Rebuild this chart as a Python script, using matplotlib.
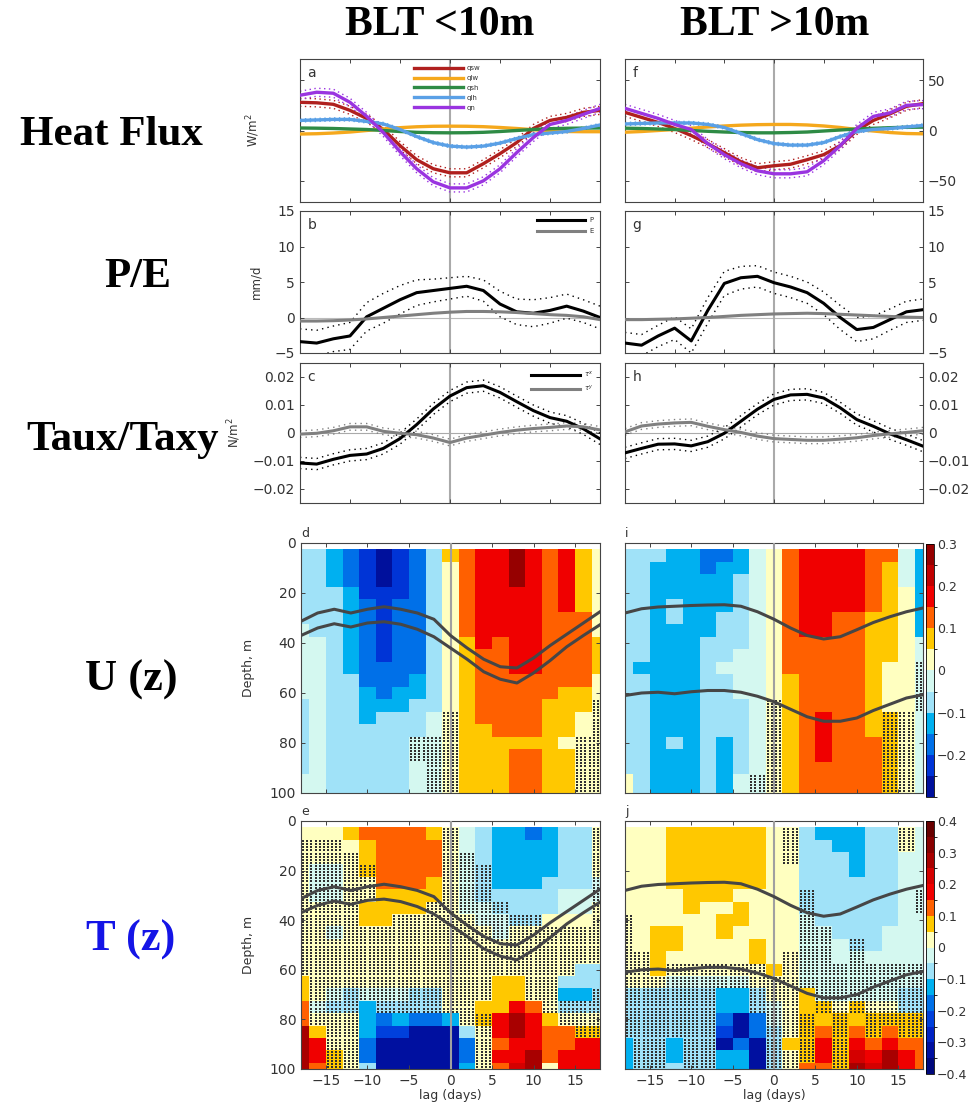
import numpy as np
import matplotlib
matplotlib.use("Agg")
import matplotlib.pyplot as plt
from matplotlib.colors import ListedColormap, BoundaryNorm

W, H = 970, 1109

lags = np.arange(-18, 19, 2)

# ---- heat flux components (W/m2) ----
qsw_a = [28, 27.5, 26, 20, 12, 1, -15, -29, -38, -42, -42, -33, -23, -12, 2, 10, 13, 18, 20]
qlw_a = [-3.5, -3.2, -2.5, -1.5, 0, 1.5, 2.8, 3.7, 4.2, 4.3, 4.2, 3.8, 3, 2, 0.8, -0.3, -1, -1.2, -1.2]
qsh_a = [2.5, 2.3, 2, 1.5, 1, 0, -1, -1.8, -2.2, -2.3, -2.2, -1.8, -1, 0, 1, 1.8, 2.2, 2.4, 2.5]
qlh_a = [10, 10.5, 11, 11, 9, 6.5, 1, -6, -12, -15.5, -16.5, -15.5, -12.5, -8, -4, -2.5, -1, 2, 5.5]
qn_a = [35, 38, 37, 28, 14, -2, -21, -38, -51, -57, -57, -50, -38, -22, -7, 6, 10, 16, 22]

qsw_f = [18, 13, 8, 2, -5, -13, -22, -31, -37, -35, -33.5, -29, -24, -15, 0, 10, 16.5, 24, 26.7]
qlw_f = [-1.7, -1, 0, 1, 2.3, 3.5, 4.5, 5.3, 5.8, 6, 6, 5.5, 4.5, 3, 1, -0.5, -2, -3, -3.3]
qsh_f = [2.3, 2, 1.5, 1, 0, -0.8, -1.5, -2, -2.3, -2.3, -2, -1.5, -0.5, 0.5, 1.5, 2.2, 2.8, 3.2, 3.3]
qlh_f = [6.5, 7, 7.5, 7.5, 7.5, 6, 3, -3, -9, -13, -14.5, -14.5, -12, -6, -1, 1, 2, 3.5, 5]
qn_f = [22, 17, 12, 6, 1, -13, -24, -33, -40, -43, -43, -41, -30, -15, 2, 14, 17.5, 25, 25.7]
flux_ci = {"qsw": 4, "qlh": 1.5, "qn": 4}

# ---- precipitation / evaporation (mm/d) ----
p_b = [-3.4, -3.6, -3.0, -2.6, 0.1, 1.3, 2.5, 3.5, 3.8, 4.1, 4.4, 3.8, 1.9, 0.8, 0.6, 1.0, 1.6, 0.9, 0.0]
p_ci_b = [1.8, 1.8, 1.8, 1.9, 2.0, 2.1, 2.0, 1.8, 1.6, 1.5, 1.4, 1.5, 1.8, 1.8, 1.9, 1.8, 1.7, 1.6, 1.6]
e_b = [-0.5, -0.5, -0.45, -0.35, -0.2, 0, 0.2, 0.4, 0.6, 0.75, 0.85, 0.85, 0.8, 0.7, 0.55, 0.4, 0.3, 0.1, -0.3]
p_g = [-3.6, -3.9, -2.6, -1.5, -3.3, 1.0, 4.8, 5.6, 5.8, 4.9, 4.3, 3.5, 2.0, 0.0, -1.7, -1.4, -0.3, 0.8, 1.1]
p_ci_g = [1.5, 1.5, 1.5, 1.6, 1.7, 1.8, 1.7, 1.6, 1.5, 1.5, 1.5, 1.5, 1.6, 1.7, 1.7, 1.6, 1.5, 1.5, 1.5]
e_g = [-0.3, -0.3, -0.25, -0.2, -0.1, 0, 0.15, 0.3, 0.4, 0.5, 0.55, 0.6, 0.55, 0.45, 0.35, 0.25, 0.15, 0.05, 0]

# ---- wind stress (N/m2) ----
taux_c = [-0.0107, -0.0111, -0.0094, -0.008, -0.0075, -0.0055, -0.002, 0.003, 0.0086, 0.0132,
          0.0162, 0.0169, 0.0145, 0.0112, 0.008, 0.0055, 0.0042, 0.0015, -0.0021]
tauy_c = [-0.0004, -0.0001, 0.0008, 0.0022, 0.0022, 0.0006, -0.0001, -0.0006, -0.0018, -0.0034,
          -0.0018, -0.0008, 0.0002, 0.001, 0.0016, 0.002, 0.0025, 0.0022, 0.0011]
taux_h = [-0.0071, -0.0055, -0.004, -0.0039, -0.0046, -0.0031, -0.0001, 0.0042, 0.0085, 0.012,
          0.0136, 0.0138, 0.0125, 0.009, 0.0048, 0.0024, -0.0003, -0.0024, -0.0047]
tauy_h = [0.0004, 0.0025, 0.0032, 0.0036, 0.0038, 0.0024, 0.0012, 0.0002, -0.0011, -0.002,
          -0.0023, -0.0026, -0.0026, -0.0022, -0.0017, -0.0009, -0.0003, 0.0002, 0.0008]
tau_ci = {"x": 0.002, "y": 0.0012}

# ---- layer depths (m) drawn on the sections ----
upper_left = [31.3, 28.0, 26.5, 28.0, 26.5, 25.5, 26.5, 28.0, 30.5, 37.0, 42.0, 46.5, 49.5, 50.0, 46.0, 41.0, 36.5, 32.0, 27.5]
lower_left = [37.0, 34.0, 32.3, 33.6, 32.0, 31.5, 32.5, 34.5, 37.5, 42.0, 46.5, 51.5, 54.5, 56.0, 52.0, 47.0, 41.5, 37.0, 32.7]
upper_right = [28.0, 26.3, 25.6, 25.3, 25.0, 24.8, 24.7, 25.3, 27.5, 30.5, 34.0, 37.0, 38.4, 37.5, 34.7, 31.8, 29.5, 27.5, 26.0]
lower_right = [61.0, 60.0, 59.7, 60.3, 59.5, 59.0, 59.0, 59.7, 61.3, 63.5, 66.5, 69.5, 71.3, 71.3, 70.0, 67.0, 64.5, 62.0, 60.7]

# ---- depth sections: one letter per cell (lower case < 0, upper case > 0, 0.05 steps) ----
depth_centers = np.arange(5, 101, 5)
u_small = [
    "bbcdefedbBCDDFDCDBA",
    "bbcdefedbACDDFDCDBA",
    "bbcdefedbACDDFDCDBA",
    "bbbceeedbACDDDDCDBA",
    "bbbcdeddbACDDDDCDBA",
    "bbbcdeddbACDDDDCCCA",
    "abbcdeddbACDDDDCCCA",
    "aabcdeddbABDCDDCCCB",
    "aabcdeddbABCCDDCCCB",
    "aabcddddbABCCDDCCCB",
    "aabbdddcbABCCCCCCCA",
    "aabbcdccbABCCCCCBBA",
    "babbcccbbABCCCCBBBA",
    "babbcbbbaABCCCCBBAA",
    "babbbbbbaABBCCCBBAA",
    "babbbbbaaABBBBBBAAA",
    "babbbbbaaABBBCCBBAA",
    "babbbbbaaABBBCCBBAA",
    "aabbbbbaaABBBCCBBAA",
    "aabbbbbaaABBBCCBBAA",
]
u_small_dots = [
    "...................",
    "...................",
    "...................",
    "...................",
    "...................",
    "...................",
    "...................",
    "...................",
    "...................",
    "...................",
    "...................",
    "...................",
    "..................x",
    ".........x........x",
    ".........x........x",
    ".......xxx.......xx",
    ".......xxx.......xx",
    "........xx.......xx",
    "........xx.......xx",
    "........xx.......xx",
]
u_large = [
    "bbbccddcaACDDDDCCac",
    "bbcccdccaACDDDDCBac",
    "bbcccccbaACDDDDCBac",
    "bbcccccbaACDDDDCBAc",
    "bbcbcccbaACDDDDCBAc",
    "bbcbccbbaACDDCCBBAc",
    "bbccccbbaACDDCCBBAc",
    "bbcccbbbaACCCCCBBAa",
    "bbcccbbaaACCCCCBBAa",
    "bccccbaaaACCCCCBAAa",
    "bbcccbbaaABCCCCBAAa",
    "bbcccbbaaABCCCCBAAa",
    "bbcccbbbaABCCCCBAAa",
    "bbcccbbbaABCDCCBBAa",
    "bbcccbbbaABCDCCBBAa",
    "bbcbcbcbaABCDCCCBAa",
    "bbcccbcbaABCDCCCBAa",
    "bbcccbcbaABCCCCCBAa",
    "AbcccbcaaABCCCCCBAa",
    "AbcccbcaaABCCCCCBAa",
]
u_large_dots = [
    "...................",
    "...................",
    "...................",
    "...................",
    "...................",
    "...................",
    "...................",
    "...................",
    "...................",
    "..................x",
    "..................x",
    "..................x",
    ".........x........x",
    ".........x......xx.",
    ".........x......xx.",
    ".........x......xx.",
    ".........x......xx.",
    ".........x......xx.",
    "........xx......xx.",
    "........xx......xx.",
]
t_small = [
    "AAABCCCCBAabccdcbbA",
    "AAAABCCCCAabccccbbA",
    "AAAABCCCCAabccccbbA",
    "AaaABCCCCAabccccbbA",
    "AaaAACCCBAabcccbbba",
    "AaaAABBBBAabbbbbaaa",
    "AAAABBBBAAaabbbbaaA",
    "AAAABBAAAAAaabbAAAA",
    "AAaAAAAAAAAAaAAAAAA",
    "AAAAAAAAAAAAAAAAAAA",
    "AAAAAAAAAAAAAAAAAAA",
    "AAAAAAAAAAAAAAAAAbb",
    "BAAAAAAAAAAABBAAbbb",
    "BAabaaabbAAABBAAccb",
    "CabbcbbbbAABBDCAbbb",
    "CAAAcdcddcABDFDBAAA",
    "FBAAceegggbADFDCCBB",
    "FDAAdgggggdACDDCCDD",
    "FDBAdgggggdADDFCDDD",
    "FCBAbgggggcACEFADDD",
]
t_small_dots = [
    ".........x........x",
    "xxx......x........x",
    "xxxx.....xx.......x",
    "xxxxx....xxx......x",
    "xxxxx....xxx......x",
    "xxxxx....xxx......x",
    "xxxx....xxxxx.....x",
    "xxxx..xxxxxxxxx...x",
    "xxxxxxxxxxxxxxxxxxx",
    "xxxxxxxxxxxxxxxxxxx",
    "xxxxxxxxxxxxxxxxxxx",
    "xxxxxxxxxxxxxxxxx..",
    ".xxxxxxxxxxx..xx...",
    ".xxxxxxxxxxx..xx..x",
    ".xxx.xxxxxx....xxxx",
    ".xxx......xx....xxx",
    "..xx.......x.....xx",
    "..xx.......x.......",
    "..xx.......x.......",
    "..xx.......x.......",
]
t_large = [
    "AAABBBBBBAAbcccbbAa",
    "AAABBBBBBAAbbccbbAa",
    "AAABBBBBBAAbbbcbbaa",
    "AAABBBBBBAAbbbcbbaa",
    "AAABBBBBBAAbbbbbbaa",
    "AAAABBBAAAAbbbbbbaa",
    "AAAABAABAAAbbbbbbaa",
    "AAAAAABBAAAabbbbbaa",
    "AABBAABAAAAaabbbaaa",
    "AABBAAAABAAaaabbaaa",
    "AABAAAAABAAaaaaaaaa",
    "AABAAAAAABAaaaaaaaa",
    "AAAaaaaaAAAaaaaaaaa",
    "bbbbbbccbAABaaaaabb",
    "bbbbbbccbaABBABAAbb",
    "bbbbbbdgdaABBBBBBBB",
    "bbbbbbegdbABCBCBCBB",
    "cbbcbbgdgbBBDBDCDCC",
    "cbbcbbccgbABDBEDFDC",
    "cbbbbbccgbACCBFEFDC",
]
t_large_dots = [
    "..........x......x.",
    "..........x......x.",
    "..........x........",
    "...................",
    "...................",
    "...........x......x",
    "...........x......x",
    "x..........x.......",
    "x..........xx......",
    "x..........xx.x....",
    "xx........xxx.x....",
    "xx.xxxxxx.xxxxxxxxx",
    "xxxxxxxxxxxxxxxxxxx",
    "xxxxxx..xxx.xxxxxxx",
    "xxxxxx..xxx.xxxxxxx",
    "xxxxxx...xxx.x.xxxx",
    "xxxxxx...xxx.x.x.xx",
    ".xx.xx...x.x.x.....",
    ".xx.xx...xxx.x.....",
    ".xx.xx...xx..x.....",
]

u_colors = ['#00109c', '#0034d6', '#0070e8', '#00b0f0', '#a0e2f8', '#d4f8f0',
            '#ffffc0', '#ffc800', '#ff6000', '#f00000', '#c00000', '#960000']
t_colors = ['#00087c', '#0010a0', '#0022c4', '#0040dc', '#0070e8', '#00b0f0', '#a0e2f8', '#d4f8f0',
            '#ffffc0', '#ffc800', '#ff6000', '#f00000', '#d40000', '#a80000', '#880000', '#680000']
u_cmap = ListedColormap(u_colors)
u_norm = BoundaryNorm(np.linspace(-0.3, 0.3, 13), 12)
t_cmap = ListedColormap(t_colors)
t_norm = BoundaryNorm(np.linspace(-0.4, 0.4, 17), 16)

TXT = '#333333'
plt.rcParams['font.family'] = ['DejaVu Sans']

fig = plt.figure(figsize=(W / 100, H / 100), dpi=100)


def add_ax(x0, y0, x1, y1):
    return fig.add_axes([x0 / W, 1 - y1 / H, (x1 - x0) / W, (y1 - y0) / H])


def style(ax, right=False, labels=True):
    for s in ax.spines.values():
        s.set_color('#444444')
        s.set_linewidth(0.8)
    ax.tick_params(direction='in', length=3, width=0.7, top=True, right=True,
                   labelsize=10, colors='#444444', labelcolor=TXT,
                   labelbottom=False, labelleft=labels and not right,
                   labelright=labels and right)


def letter(ax, s, inside=True):
    if inside:
        ax.text(0.025, 0.95, s, transform=ax.transAxes, ha='left', va='top', fontsize=10, color=TXT)
    else:
        ax.text(0.0, 1.012, s, transform=ax.transAxes, ha='left', va='bottom', fontsize=9, color=TXT)


def letter_value(ch):
    if ch.islower():
        return -(ord(ch) - ord('a') + 0.5) * 0.05
    return (ord(ch) - ord('A') + 0.5) * 0.05


def flux_panel(ax, qsw, qlw, qsh, qlh, qn, legend):
    cols = {'qsw': '#b0201e', 'qlw': '#f5a81c', 'qsh': '#2e8b45', 'qlh': '#5aa0e6', 'qn': '#9a34e0'}
    series = {'qsw': qsw, 'qlw': qlw, 'qsh': qsh, 'qlh': qlh, 'qn': qn}
    for name, vals in series.items():
        v = np.array(vals)
        ax.plot(lags, v, color=cols[name], lw=2.4, label=name, zorder=3)
        if name in flux_ci:
            for sgn in (-1, 1):
                ax.plot(lags, v + sgn * flux_ci[name], color=cols[name], lw=1.0,
                        ls=(0, (1, 2.5)), zorder=2)
    ax.axvline(0, color='#aaaaaa', lw=1.5, zorder=1)
    ax.set_xlim(-18, 18)
    ax.set_ylim(-71, 71)
    ax.set_xticks([-12, -6, 0, 6, 12])
    ax.set_yticks([-50, 0, 50])
    if legend:
        ax.legend(loc='upper left', bbox_to_anchor=(0.36, 1.0), frameon=False, fontsize=5,
                  handlelength=7, labelspacing=0.55, handletextpad=0.6, labelcolor=TXT)


def pe_panel(ax, p, pci, e, legend):
    p = np.array(p)
    pci = np.array(pci)
    ax.axhline(0, color='#bbbbbb', lw=0.8, zorder=1)
    ax.axvline(0, color='#aaaaaa', lw=1.5, zorder=1)
    ax.plot(lags, p, color='black', lw=2.2, label='P', zorder=3)
    ax.plot(lags, p + pci, color='black', lw=1.0, ls=(0, (1, 3)), zorder=2)
    ax.plot(lags, p - pci, color='black', lw=1.0, ls=(0, (1, 3)), zorder=2)
    ax.plot(lags, e, color='#808080', lw=2.2, label='E', zorder=3)
    ax.set_xlim(-18, 18)
    ax.set_ylim(-5, 15)
    ax.set_xticks([-12, -6, 0, 6, 12])
    ax.set_yticks([-5, 0, 5, 10, 15])
    if legend:
        ax.legend(loc='upper right', bbox_to_anchor=(1.0, 1.0), frameon=False, fontsize=5,
                  handlelength=7, labelspacing=0.7, handletextpad=0.6, labelcolor=TXT)


def tau_panel(ax, tx, ty, legend):
    tx = np.array(tx)
    ty = np.array(ty)
    ax.axhline(0, color='#aaaaaa', lw=0.8, zorder=1)
    ax.axvline(0, color='#aaaaaa', lw=1.5, zorder=1)
    ax.plot(lags, tx, color='black', lw=2.2, label=r'$\tau^x$', zorder=3)
    ax.plot(lags, ty, color='#808080', lw=2.2, label=r'$\tau^y$', zorder=3)
    for sgn in (-1, 1):
        ax.plot(lags, tx + sgn * tau_ci['x'], color='black', lw=1.0, ls=(0, (1, 3)), zorder=2)
        ax.plot(lags, ty + sgn * tau_ci['y'], color='#808080', lw=1.0, ls=(0, (1, 3)), zorder=2)
    ax.set_xlim(-18, 18)
    ax.set_ylim(-0.025, 0.025)
    ax.set_xticks([-12, -6, 0, 6, 12])
    ax.set_yticks([-0.02, -0.01, 0, 0.01, 0.02])
    ax.set_yticklabels(['\u22120.02', '\u22120.01', '0', '0.01', '0.02'])
    if legend:
        ax.legend(loc='upper right', bbox_to_anchor=(1.0, 1.0), frameon=False, fontsize=5,
                  handlelength=7, labelspacing=0.6, handletextpad=0.6, labelcolor=TXT)


def section(ax, rows, dots, cmap, norm, upper, lower):
    vals = np.array([[letter_value(c) for c in r] for r in rows])
    xe = np.arange(-19, 20, 2)
    ye = np.arange(2.5, 103, 5)
    ax.pcolormesh(xe, ye, vals, cmap=cmap, norm=norm, zorder=1)
    px, py = [], []
    for i, r in enumerate(dots):
        for j, ch in enumerate(r):
            if ch == 'x':
                for dx in (-0.75, -0.25, 0.25, 0.75):
                    for dy in (-1.875, -0.625, 0.625, 1.875):
                        px.append(lags[j] + dx)
                        py.append(depth_centers[i] + dy)
    ax.scatter(px, py, s=0.55, marker='s', c='#303030', linewidths=0, zorder=2)
    ax.axvline(0, color='#a0a0a0', lw=1.5, zorder=3)
    ax.plot(lags, upper, color='#464646', lw=2.2, zorder=4)
    ax.plot(lags, lower, color='#464646', lw=2.2, zorder=4)
    ax.set_xlim(-18, 18)
    ax.set_ylim(100, 0)
    ax.set_xticks([-15, -10, -5, 0, 5, 10, 15])
    ax.set_yticks([0, 20, 40, 60, 80, 100])


# ---- left column (BLT < 10 m) ----
ax_a = add_ax(300, 59, 600, 202)
flux_panel(ax_a, qsw_a, qlw_a, qsh_a, qlh_a, qn_a, True)
style(ax_a, labels=False)
letter(ax_a, 'a')
ax_a.set_ylabel('W/m$^2$', fontsize=8.5, color=TXT)
ax_a.yaxis.set_label_coords(-0.125, 0.5)

ax_b = add_ax(300, 211, 600, 353)
pe_panel(ax_b, p_b, p_ci_b, e_b, True)
style(ax_b)
letter(ax_b, 'b')
ax_b.set_ylabel('mm/d', fontsize=8.5, color=TXT)
ax_b.yaxis.set_label_coords(-0.125, 0.5)

ax_c = add_ax(300, 363, 600, 503)
tau_panel(ax_c, taux_c, tauy_c, True)
style(ax_c)
letter(ax_c, 'c')
ax_c.set_ylabel('N/m$^2$', fontsize=8.5, color=TXT)
ax_c.yaxis.set_label_coords(-0.19, 0.5)

ax_d = add_ax(301, 543, 600, 793)
section(ax_d, u_small, u_small_dots, u_cmap, u_norm, upper_left, lower_left)
style(ax_d)
letter(ax_d, 'd', inside=False)
ax_d.set_ylabel('Depth, m', fontsize=9, color=TXT)
ax_d.yaxis.set_label_coords(-0.155, 0.5)

ax_e = add_ax(301, 821, 600, 1069)
section(ax_e, t_small, t_small_dots, t_cmap, t_norm, upper_left, lower_left)
style(ax_e)
ax_e.tick_params(labelbottom=True)
letter(ax_e, 'e', inside=False)
ax_e.set_ylabel('Depth, m', fontsize=9, color=TXT)
ax_e.yaxis.set_label_coords(-0.155, 0.5)
ax_e.set_xlabel('lag (days)', fontsize=9, color=TXT, labelpad=1)

# ---- right column (BLT > 10 m) ----
ax_f = add_ax(625, 59, 923, 202)
flux_panel(ax_f, qsw_f, qlw_f, qsh_f, qlh_f, qn_f, False)
style(ax_f, right=True)
letter(ax_f, 'f')

ax_g = add_ax(625, 211, 923, 353)
pe_panel(ax_g, p_g, p_ci_g, e_g, False)
style(ax_g, right=True)
letter(ax_g, 'g')

ax_h = add_ax(625, 363, 923, 503)
tau_panel(ax_h, taux_h, tauy_h, False)
style(ax_h, right=True)
letter(ax_h, 'h')

ax_i = add_ax(625, 543, 923, 793)
section(ax_i, u_large, u_large_dots, u_cmap, u_norm, upper_right, lower_right)
style(ax_i, labels=False)
letter(ax_i, 'i', inside=False)

ax_j = add_ax(625, 821, 923, 1069)
section(ax_j, t_large, t_large_dots, t_cmap, t_norm, upper_right, lower_right)
style(ax_j, labels=False)
ax_j.tick_params(labelbottom=True)
letter(ax_j, 'j', inside=False)
ax_j.set_xlabel('lag (days)', fontsize=9, color=TXT, labelpad=1)

# ---- colour bars ----
cax_u = add_ax(926, 544, 934, 797)
cb_u = fig.colorbar(plt.cm.ScalarMappable(norm=u_norm, cmap=u_cmap), cax=cax_u,
                    ticks=[-0.2, -0.1, 0, 0.1, 0.2, 0.3])
cb_u.ax.set_yticklabels(['\u22120.2', '\u22120.1', '0', '0.1', '0.2', '0.3'])
cax_t = add_ax(926, 821, 934, 1074)
cb_t = fig.colorbar(plt.cm.ScalarMappable(norm=t_norm, cmap=t_cmap), cax=cax_t,
                    ticks=[-0.4, -0.3, -0.2, -0.1, 0, 0.1, 0.2, 0.3, 0.4])
cb_t.ax.set_yticklabels(['\u22120.4', '\u22120.3', '\u22120.2', '\u22120.1', '0',
                         '0.1', '0.2', '0.3', '0.4'])
for cb in (cb_u, cb_t):
    cb.outline.set_linewidth(0.6)
    cb.ax.tick_params(length=0, labelsize=9, labelcolor=TXT, pad=2)

# ---- titles and row labels ----
serif = dict(family='Liberation Serif', weight='bold', color='black')
fig.text(440 / W, 1 - 25 / H, 'BLT <10m', ha='center', va='center', fontsize=30, **serif)
fig.text(775 / W, 1 - 25 / H, 'BLT >10m', ha='center', va='center', fontsize=30, **serif)
fig.text(111 / W, 1 - 135 / H, 'Heat Flux', ha='center', va='center', fontsize=31, **serif)
fig.text(138 / W, 1 - 277 / H, 'P/E', ha='center', va='center', fontsize=31, **serif)
fig.text(123 / W, 1 - 440 / H, 'Taux/Taxy', ha='center', va='center', fontsize=31, **serif)
fig.text(131 / W, 1 - 680 / H, 'U (z)', ha='center', va='center', fontsize=32, **serif)
fig.text(131 / W, 1 - 940 / H, 'T (z)', ha='center', va='center', fontsize=32,
         family='Liberation Serif', weight='bold', color='#1414e6')

fig.savefig('out.png', dpi=100)
